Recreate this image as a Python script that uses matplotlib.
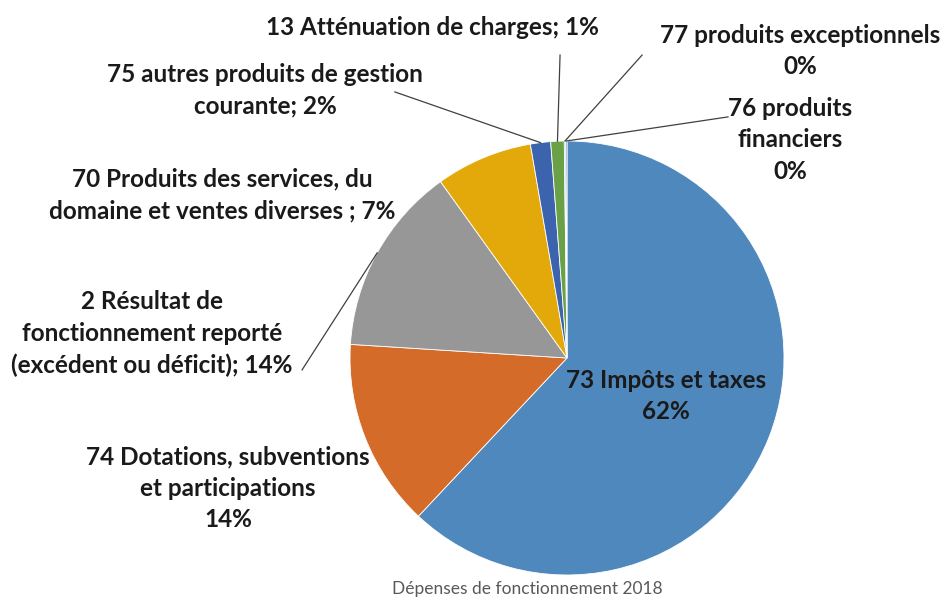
import numpy as np
import matplotlib.pyplot as plt

labels = ["73 Impôts et taxes\n62%",
          "74 Dotations, subventions\net participations\n14%",
          "2 Résultat de\nfonctionnement reporté\n(excédent ou déficit); 14%",
          "70 Produits des services, du\ndomaine et ventes diverses ; 7%",
          "75 autres produits de gestion\ncourante; 2%",
          "13 Atténuation de charges; 1%",
          "77 produits exceptionnels\n0%",
          "76 produits\nfinanciers\n0%"]
values = [62.0, 14.0, 14.1, 7.2, 1.5, 1.0, 0.1, 0.1]
colors = ["#4f88bd", "#d46b29", "#979797", "#e3a80a", "#3c63ae", "#6aa146", "#4f88bd", "#4f88bd"]

# label centres (data units, pie radius = 1) and leader ends
text_pos = [(0.456, -0.175), (-1.562, -0.60), (-1.912, 0.111), (-1.59, 0.751),
            (-1.392, 1.235), (-0.618, 1.525), (1.074, 1.415), (1.028, 1.005)]
leader_end = [None, None, (-1.221, -0.055), None,
              (-0.793, 1.226), (-0.032, 1.396), (0.346, 1.396), (0.742, 1.111)]

plt.rcParams['font.family'] = ['Lato', 'DejaVu Sans']

fig = plt.figure(figsize=(9.44, 5.97), dpi=100)
R = 217
cx, cy = 567, 597 - 358
ax = fig.add_axes([(cx - R) / 944, (cy - R) / 597, 2 * R / 944, 2 * R / 597])
wedges, _ = ax.pie(values, colors=colors, startangle=90, counterclock=False,
                   radius=1, wedgeprops=dict(edgecolor='white', linewidth=0.6))
ax.set_xlim(-1, 1)
ax.set_ylim(-1, 1)
ax.set_aspect('equal')
ax.axis('off')

for w, lab, pos, end in zip(wedges, labels, text_pos, leader_end):
    ax.text(pos[0], pos[1], lab, ha='center', va='center', fontsize=17.5,
            fontweight='bold', color='#1a1a1a', linespacing=1.45, clip_on=False)
    if end is not None:
        a = np.deg2rad((w.theta1 + w.theta2) / 2)
        ax.plot([np.cos(a), end[0]], [np.sin(a), end[1]], color='#404040',
                lw=0.9, clip_on=False)

fig.text(527 / 944, 1 - 589 / 597, "Dépenses de fonctionnement 2018", ha='center',
         va='center', fontsize=12.5, color='#595959')

fig.savefig('out.png', dpi=100, facecolor='white')
